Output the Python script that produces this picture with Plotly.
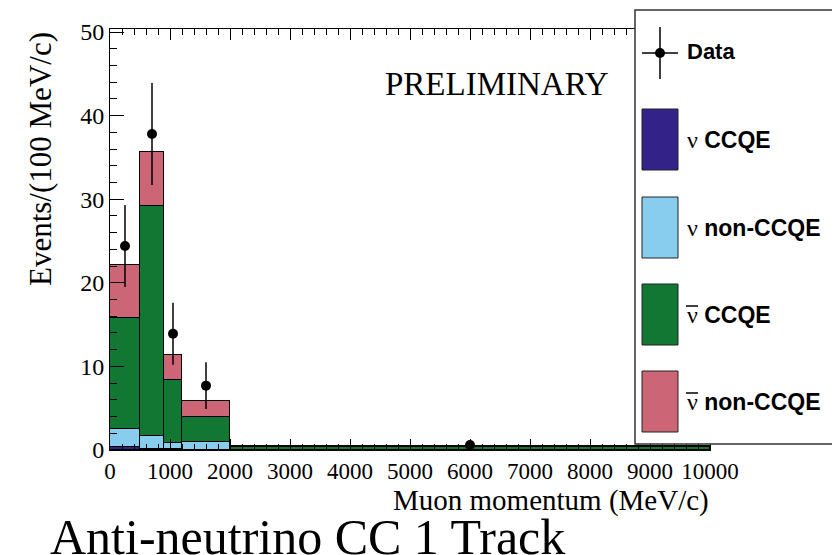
import plotly.graph_objects as go

# ---- data ----
bin_lo = [0, 500, 900, 1200, 2000]
bin_hi = [500, 900, 1200, 2000, 10000]
nu_ccqe = [0.35, 0.15, 0.10, 0.05, 0.02]
nu_nonccqe = [2.13, 1.53, 0.78, 0.91, 0.04]
nubar_ccqe = [13.32, 27.52, 7.44, 2.96, 0.32]
nubar_nonccqe = [6.28, 6.50, 3.08, 1.96, 0.06]
data_x = [250, 700, 1050, 1600, 6000]
data_y = [24.4, 37.8, 13.9, 7.7, 0.6]
data_err = [4.9, 6.1, 3.7, 2.8, 0.3]
x_ticks = [0, 1000, 2000, 3000, 4000, 5000, 6000, 7000, 8000, 9000, 10000]
y_ticks = [0, 10, 20, 30, 40, 50]

series = [
    ("ν CCQE", nu_ccqe, "#332288"),
    ("ν non-CCQE", nu_nonccqe, "#88CCEE"),
    ("ν̄ CCQE", nubar_ccqe, "#117733"),
    ("ν̄ non-CCQE", nubar_nonccqe, "#CC6677"),
]

centers = [(a + b) / 2 for a, b in zip(bin_lo, bin_hi)]
widths = [b - a for a, b in zip(bin_lo, bin_hi)]

W, H = 840, 555
OFF = 8  # page body margin
PL, PR, PT, PB = 110, 710, 29, 450  # desired plot box in screen pixels
L = PL - OFF
R = W - (PR - OFF)
T = PT - OFF
B = H - (PB - OFF)


def px(x):
    return (x - PL) / (PR - PL)


def py(y):
    return (PB - y) / (PB - PT)


fig = go.Figure()
for name, vals, col in series:
    fig.add_trace(go.Bar(x=centers, y=vals, width=widths, name=name,
                         marker=dict(color=col, line=dict(color="black", width=1)),
                         showlegend=False))

fig.add_trace(go.Scatter(x=data_x, y=data_y, mode="markers", name="Data",
                         marker=dict(color="black", size=10),
                         error_y=dict(type="data", array=data_err, color="black",
                                      thickness=1.5, width=0),
                         showlegend=False))

serif = "Liberation Serif, Times New Roman, serif"
sans = "Liberation Sans, Arial, sans-serif"

fig.update_layout(
    width=W, height=H,
    margin=dict(l=L, r=R, t=T, b=B, pad=0),
    paper_bgcolor="white", plot_bgcolor="white",
    barmode="stack", bargap=0,
    font=dict(family=serif, color="black"),
    xaxis=dict(range=[0, 10000], tickvals=x_ticks, ticktext=[str(v) for v in x_ticks],
               ticks="inside", ticklen=11, tickcolor="black", tickwidth=1,
               minor=dict(dtick=200, ticks="inside", ticklen=6, tickcolor="black"),
               showline=True, linecolor="black", linewidth=1, mirror="ticks",
               showgrid=False, zeroline=False,
               tickfont=dict(family=serif, size=23, color="black")),
    yaxis=dict(range=[0, 50.36], tickvals=y_ticks, ticktext=[str(v) for v in y_ticks],
               ticks="inside", ticklen=14, tickcolor="black", tickwidth=1,
               minor=dict(dtick=2, ticks="inside", ticklen=7, tickcolor="black"),
               showline=True, linecolor="black", linewidth=1, mirror="ticks",
               showgrid=False, zeroline=False,
               tickfont=dict(family=serif, size=24, color="black")),
)

ann = []
ann.append(dict(text="PRELIMINARY", x=px(497), y=py(84), xref="paper", yref="paper",
                showarrow=False, xanchor="center", yanchor="middle",
                font=dict(family=serif, size=33, color="black")))
ann.append(dict(text="Muon momentum (MeV/c)", x=px(711), y=py(500), xref="paper", yref="paper",
                showarrow=False, xanchor="right", yanchor="middle",
                font=dict(family=serif, size=29, color="black")))
ann.append(dict(text="Events/(100 MeV/c)", x=px(40), y=py(30), xref="paper", yref="paper",
                showarrow=False, xanchor="center", yanchor="top", textangle=-90,
                font=dict(family=serif, size=31, color="black")))
ann.append(dict(text="Anti-neutrino CC 1 Track", x=px(48), y=py(537), xref="paper", yref="paper",
                showarrow=False, xanchor="left", yanchor="middle",
                font=dict(family=serif, size=50, color="black")))

shapes = []
# legend box
shapes.append(dict(type="rect", xref="paper", yref="paper", x0=px(635), x1=px(837),
                   y0=py(444), y1=py(10), fillcolor="white",
                   line=dict(color="#333333", width=1.5), layer="above"))
# Data symbol
shapes.append(dict(type="line", xref="paper", yref="paper", x0=px(642), x1=px(678),
                   y0=py(53), y1=py(53), line=dict(color="black", width=1.5), layer="above"))
shapes.append(dict(type="line", xref="paper", yref="paper", x0=px(660), x1=px(660),
                   y0=py(27), y1=py(79), line=dict(color="black", width=1.5), layer="above"))
shapes.append(dict(type="circle", xref="paper", yref="paper", xsizemode="pixel", ysizemode="pixel",
                   xanchor=px(660), yanchor=py(53), x0=-5, x1=5, y0=-5, y1=5,
                   fillcolor="black", line=dict(color="black", width=0), layer="above"))
ann.append(dict(text="<b>Data</b>", x=px(685), y=py(52), xref="paper", yref="paper",
                showarrow=False, xanchor="left", yanchor="middle",
                font=dict(family=sans, size=22, color="black")))

sw_tops = [109, 197, 284, 371]
labels = [
    ("ν", False, "CCQE"),
    ("ν", False, "non-CCQE"),
    ("ν", True, "CCQE"),
    ("ν", True, "non-CCQE"),
]
for (name, vals, col), top, (greek, bar, txt) in zip(series, sw_tops, labels):
    shapes.append(dict(type="rect", xref="paper", yref="paper", x0=px(642), x1=px(678),
                       y0=py(top + 61), y1=py(top), fillcolor=col,
                       line=dict(color="#222222", width=1), layer="above"))
    yc = top + 31
    ann.append(dict(text=f"<span style='font-family:{serif}; font-size:24px'>{greek}</span> <b>{txt}</b>",
                    x=px(685), y=py(yc), xref="paper", yref="paper",
                    showarrow=False, xanchor="left", yanchor="middle",
                    font=dict(family=sans, size=23, color="black")))
    if bar:
        shapes.append(dict(type="line", xref="paper", yref="paper", x0=px(686), x1=px(698),
                           y0=py(yc - 9), y1=py(yc - 9), line=dict(color="black", width=1.5),
                           layer="above"))

fig.update_layout(annotations=ann, shapes=shapes)
fig.write_html("out.html")
